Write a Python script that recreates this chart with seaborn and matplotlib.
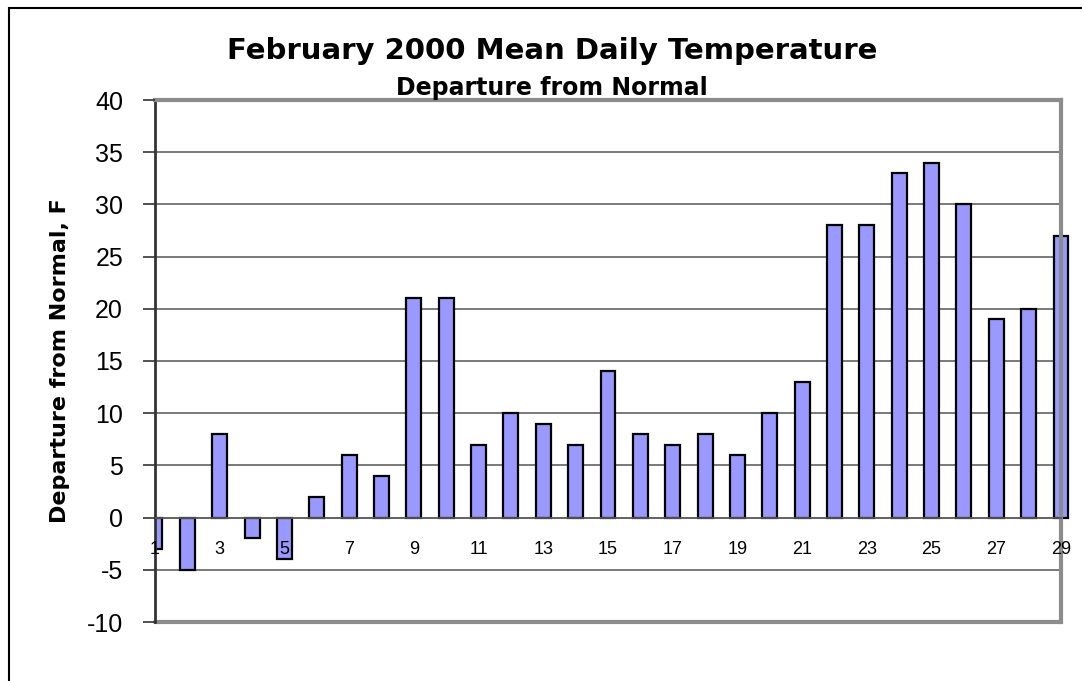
import matplotlib
matplotlib.use("Agg")
import matplotlib.pyplot as plt
import matplotlib.patches as mpatches
import seaborn as sns
import pandas as pd

# data
days = list(range(1, 30))
departures = [-3, -5, 8, -2, -4, 2, 6, 4, 21, 21, 7, 10, 9, 7, 14,
              8, 7, 8, 6, 10, 13, 28, 28, 33, 34, 30, 19, 20, 27]
yticks = [-10, -5, 0, 5, 10, 15, 20, 25, 30, 35, 40]

title = "February 2000 Mean Daily Temperature"
subtitle = "Departure from Normal"
ylabel = "Departure from Normal, F"

sns.set_style("white")
plt.rcParams["font.family"] = ["Liberation Sans", "DejaVu Sans"]
plt.rcParams["text.color"] = "black"
plt.rcParams["axes.labelcolor"] = "black"
plt.rcParams["xtick.color"] = "black"
plt.rcParams["ytick.color"] = "black"

# the bold headings in the original are widely spaced, DejaVu is closer in width
wide_bold = ["DejaVu Sans"]

df = pd.DataFrame({"day": days, "departure": departures})

fig = plt.figure(figsize=(10.82, 6.81), dpi=100)
ax = fig.add_axes([155 / 1082, 1 - 622 / 681, (1061 - 155) / 1082, (622 - 100) / 681])

sns.barplot(data=df, x="day", y="departure", ax=ax, color="#9999FF", saturation=1,
            edgecolor="black", linewidth=1.6, width=0.46, zorder=2)
# last bar hangs over the right border in the original
ax.patches[-1].set_clip_on(False)
# tick labels are drawn over the bars ("5")
ax.set_axisbelow(False)

ax.set_xlim(0, len(days) - 1)
ax.set_ylim(-10, 40)
ax.set_yticks(yticks)
ax.set_yticklabels([str(t) for t in yticks])
ax.set_xticks(range(len(days)))
ax.set_xticklabels([str(d) if d % 2 == 1 else "" for d in days])

# gridlines
for t in yticks[1:-1]:
    if t != 0:
        ax.axhline(t, color="#555555", lw=1.1, zorder=1)

# x axis sits on zero
ax.spines["bottom"].set_position(("data", 0))
ax.spines["bottom"].set_color("#555555")
ax.spines["bottom"].set_linewidth(1.3)
ax.spines["left"].set_color("#333333")
ax.spines["left"].set_linewidth(2)
for s in ["top", "right"]:
    ax.spines[s].set_color("#8c8c8c")
    ax.spines[s].set_linewidth(3)
ax.axhline(-10, color="#8c8c8c", lw=3, clip_on=False, zorder=0)

ax.tick_params(axis="x", direction="out", length=5, width=1.2, color="#555555", pad=12,
               labelsize=13, labelcolor="black")
ax.tick_params(axis="y", direction="out", length=9, width=1.2, color="#333333", pad=14,
               left=True, labelsize=18, labelcolor="black")
ax.set_xlabel("")
ax.set_ylabel(ylabel, fontsize=16, fontweight="bold", labelpad=12, color="black",
              family=wide_bold)

fig.text(552 / 1082, 1 - 59 / 681, title, ha="center", va="baseline",
         fontsize=21, fontweight="bold", color="black", family=wide_bold)
fig.text(552 / 1082, 1 - 95 / 681, subtitle, ha="center", va="baseline",
         fontsize=17, fontweight="bold", color="black", family=wide_bold)

# outer frame (only top and left edges visible)
fig.add_artist(mpatches.Rectangle((9 / 1082, -0.2), 2, 1 - 8 / 681 + 0.2,
                                  transform=fig.transFigure, fill=False,
                                  edgecolor="black", lw=1.5))

fig.savefig("out.png", dpi=100)
